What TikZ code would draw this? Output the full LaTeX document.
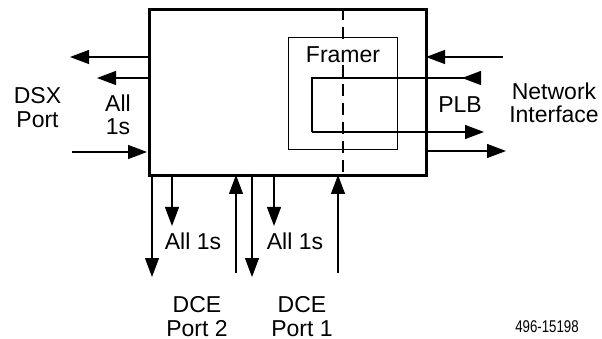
\documentclass[tikz,border=0pt]{standalone}
\usepackage{fontspec}
\setmainfont{Liberation Sans}
\newfontfamily\narrowfont{Liberation Sans}[FakeStretch=0.78]
\usetikzlibrary{arrows.meta}
\begin{document}
\begin{tikzpicture}[x=1pt,y=-1pt,
  lbl/.style={font=\fontsize{23}{23.5}\selectfont, align=center, inner sep=0pt},
  conn/.style={line width=1.2pt, -{Triangle[length=19pt,width=14pt]}},
  thin/.style={line width=1.1pt},
  mainbox/.style={draw, line width=2.6pt, inner sep=0pt, anchor=north west},
  framerbox/.style={draw, line width=1.1pt, inner sep=0pt, anchor=north west}]
\useasboundingbox (0,0) rectangle (602,339);
% main block
\node[mainbox, minimum width=277pt, minimum height=166pt] (main) at (148,8) {};
% dashed divider
\coordinate (dtop) at (343,8);
\coordinate (dbot) at (343,174);
\draw[thin, dash pattern=on 12pt off 7pt] (dtop) -- (dbot);
% framer
\node[framerbox, minimum width=109pt, minimum height=112pt] (framer) at (288,37) {};
\node[lbl, fill=white, inner sep=2pt] (framerlbl) at (343,55) {Framer};
% PLB loop
\coordinate (plbA) at (480,78);
\coordinate (plbAt) at (462,78);
\coordinate (plbB) at (312,78);
\coordinate (plbC) at (312,132);
\coordinate (plbD) at (484,132);
\draw[thin] (plbA) -- (plbB) -- (plbC);
\draw[conn] (plbC) -- (plbD);
\draw[conn] (plbA) -- (plbAt);
\node[lbl] (plb) at (460,104.5) {PLB};
% network side
\coordinate (nin) at (503,57);
\coordinate (ninE) at (426,57);
\coordinate (noutS) at (425,151);
\coordinate (nout) at (506,151);
\draw[conn] (nin) -- (ninE);
\draw[conn] (noutS) -- (nout);
\node[lbl] (net) at (554,103) {Network\\Interface};
% DSX side
\coordinate (l1s) at (148,57);
\coordinate (l1e) at (70,57);
\coordinate (l2s) at (148,78);
\coordinate (l2e) at (97,78);
\coordinate (l3s) at (72,152);
\coordinate (l3e) at (147,152);
\draw[conn] (l1s) -- (l1e);
\draw[conn] (l2s) -- (l2e);
\draw[conn] (l3s) -- (l3e);
\node[lbl] (dsx) at (37.5,107.5) {DSX\\Port};
\node[lbl] (all1) at (118,115) {All\\1s};
% DCE side
\coordinate (b1s) at (152,174);
\coordinate (b1e) at (152,277);
\coordinate (b2s) at (172,174);
\coordinate (b2e) at (172,226);
\coordinate (b3s) at (236,273);
\coordinate (b3e) at (236,175);
\coordinate (b4s) at (252,174);
\coordinate (b4e) at (252,277);
\coordinate (b5s) at (274,174);
\coordinate (b5e) at (274,226);
\coordinate (b6s) at (338,273);
\coordinate (b6e) at (338,175);
\draw[conn] (b1s) -- (b1e);
\draw[conn] (b2s) -- (b2e);
\draw[conn] (b3s) -- (b3e);
\draw[conn] (b4s) -- (b4e);
\draw[conn] (b5s) -- (b5e);
\draw[conn] (b6s) -- (b6e);
\node[lbl] (all2) at (193,241.5) {All 1s};
\node[lbl] (all3) at (295,241.5) {All 1s};
\node[lbl] (dce2) at (197,316.5) {DCE\\Port 2};
\node[lbl] (dce1) at (302,316.5) {DCE\\Port 1};
\node[inner sep=0pt, font=\narrowfont\fontsize{17}{18}\selectfont] (fig) at (547,327) {496-15198};
\end{tikzpicture}
\end{document}
